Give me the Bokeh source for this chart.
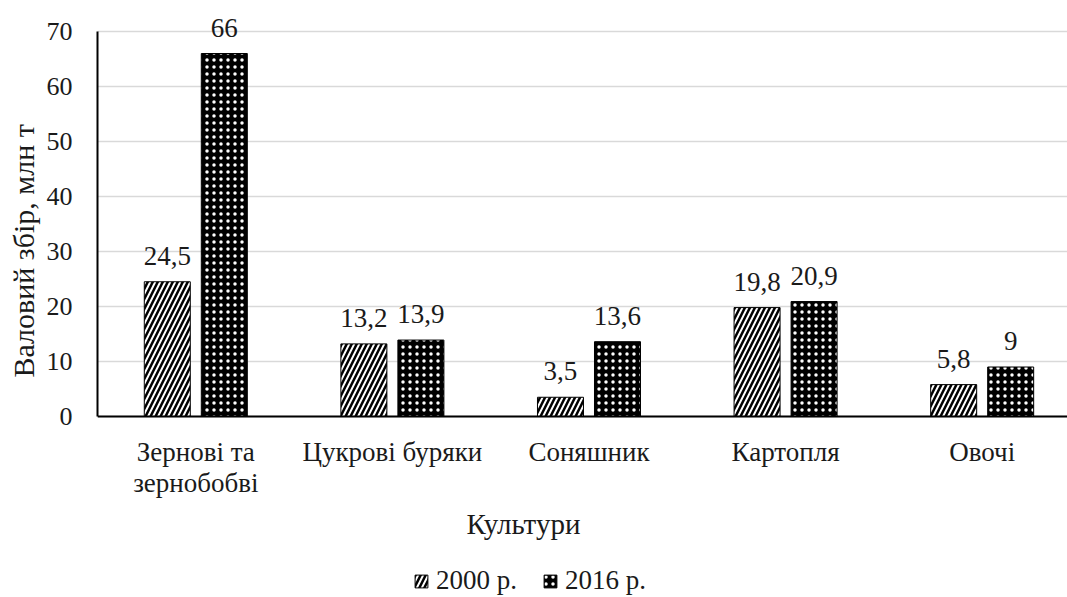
from bokeh.plotting import figure
from bokeh.models import (ColumnDataSource, Range1d, FixedTicker, Legend, LegendItem, Title, Span, Label)
from bokeh.transform import dodge
from bokeh.core.properties import value
from bokeh.embed import file_html
from bokeh.resources import INLINE

categories = ["Зернові та\nзернобобві", "Цукрові буряки", "Соняшник", "Картопля", "Овочі"]
series_2000 = [24.5, 13.2, 3.5, 19.8, 5.8]
series_2016 = [66, 13.9, 13.6, 20.9, 9]
series_names = ["2000 р.", "2016 р."]
y_ticks = [0, 10, 20, 30, 40, 50, 60, 70]
y_title = "Валовий збір, млн т"
x_title = "Культури"

FONT = "'Liberation Serif', 'Times New Roman', serif"
TXT = "#1a1a1a"

def fmt(v):
    return ("%g" % v).replace(".", ",")

xs = list(range(len(categories)))
src = ColumnDataSource(dict(
    x=xs,
    cat=categories,
    base=[0] * len(categories),
    v2000=series_2000,
    v2016=series_2016,
    l2000=[fmt(v) for v in series_2000],
    l2016=[fmt(v) for v in series_2016],
))

H = 597
PX = 5.5           # pixels per unit on the value axis
TOP = 31           # pixel row of the 70 grid line
ZERO = 416         # pixel row of the baseline
p = figure(width=1067, height=H, output_backend="svg", toolbar_location=None,
           x_range=Range1d(-0.5, 4.434),
           y_range=Range1d(-(H - ZERO) / PX, 70 + TOP / PX),
           x_axis_location=None,
           min_border_left=97, min_border_right=0, min_border_top=0, min_border_bottom=0)
p.outline_line_color = None
p.background_fill_color = "white"
p.border_fill_color = "white"

W = 0.234
OFF = 0.145
r1 = p.vbar(x=dodge("x", -OFF), top="v2000", bottom="base", width=W, source=src,
            fill_color="white", line_color="black", line_width=1,
            hatch_pattern="right_diagonal_line", hatch_color="black",
            hatch_scale=10, hatch_weight=2.5)
r2 = p.vbar(x=dodge("x", OFF), top="v2016", bottom="base", width=W, source=src,
            fill_color="black", line_color="black", line_width=1,
            hatch_pattern="dot", hatch_color="white",
            hatch_scale=7, hatch_weight=2)

for dx, col, lab in ((-OFF, "v2000", "l2000"), (OFF, "v2016", "l2016")):
    p.text(x=dodge("x", dx), y=col, text=lab, source=src,
           text_font=value(FONT), text_font_size="27px", text_align="center",
           text_baseline="alphabetic", y_offset=-26, text_color=TXT)

# baseline (x axis line)
p.add_layout(Span(location=0, dimension="width", line_color="black", line_width=2))

# category labels below the baseline
p.text(x="x", y="base", text="cat", source=src,
       text_font=value(FONT), text_font_size="27px", text_align="center",
       text_baseline="top", y_offset=20, text_color=TXT, text_line_height=1.05)

# y axis
p.yaxis.ticker = FixedTicker(ticks=y_ticks)
p.yaxis.bounds = (0, 70)
p.yaxis.major_tick_line_color = None
p.yaxis.minor_tick_line_color = None
p.yaxis.axis_line_color = "black"
p.yaxis.axis_line_width = 2
p.yaxis.major_label_text_font = FONT
p.yaxis.major_label_text_font_size = "26px"
p.yaxis.major_label_text_color = TXT
p.yaxis.major_label_standoff = 19

p.xgrid.grid_line_color = None
p.ygrid.grid_line_color = "#d9d9d9"
p.ygrid.grid_line_width = 1.5

yt = Title(text=y_title, align="left", offset=H - 377, text_font=FONT, text_font_size="30px",
           text_font_style="normal", text_color=TXT, standoff=8)
p.add_layout(yt, "left")

p.add_layout(Label(x=426, y=H - 523, x_units="screen", y_units="screen", text=x_title,
                   text_font=FONT, text_font_size="29px", text_align="center",
                   text_baseline="middle", text_color=TXT))

legend = Legend(items=[LegendItem(label=series_names[0], renderers=[r1]),
                       LegendItem(label=series_names[1], renderers=[r2])],
                orientation="horizontal", location=(316, 1),
                label_text_font=FONT, label_text_font_size="27px", label_text_color=TXT,
                glyph_width=16, glyph_height=16, label_standoff=7, spacing=25,
                padding=0, margin=0, border_line_color=None, background_fill_alpha=0)
p.add_layout(legend, "center")

open("out.html", "w").write(file_html(p, INLINE))
